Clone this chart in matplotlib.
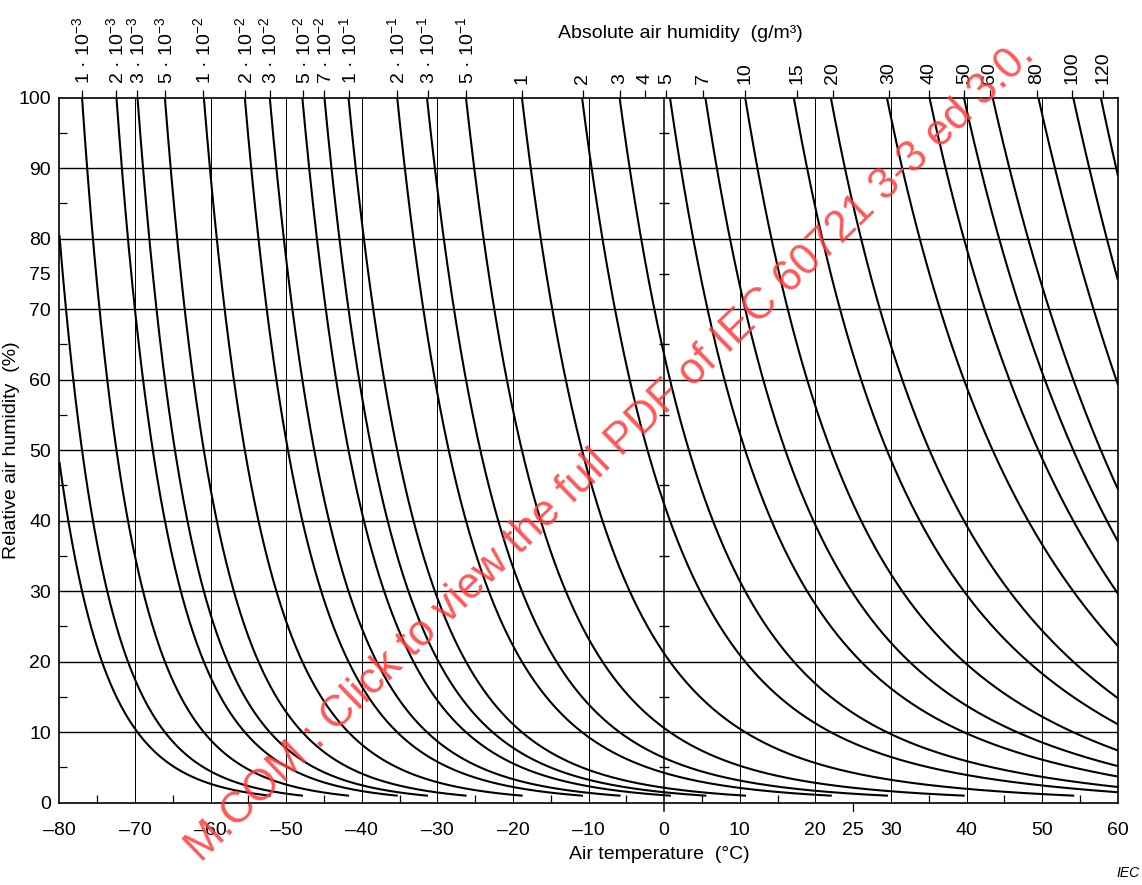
"""
Relative vs absolute air humidity chart (IEC 60721-3-3 style)
Curves of constant absolute humidity drawn over air temperature
"""
import numpy as np
import matplotlib.pyplot as plt

plt.rcParams['font.family'] = ['Liberation Sans', 'DejaVu Sans']
plt.rcParams['mathtext.fontset'] = 'custom'
plt.rcParams['mathtext.rm'] = 'Liberation Sans'
plt.rcParams['mathtext.it'] = 'Liberation Sans:italic'

# Saturation table: temperature (°C) where a curve hits 100 %
sat_temp = [-80.0, -77.0, -72.5, -69.7, -66.0, -61.0, -55.5, -52.2, -47.8, -45.0,
            -41.7, -35.3, -31.3, -26.2, -18.8, -10.8, -5.9, 0.3, 5.2, 10.7,
            17.6, 22.3, 29.7, 35.1, 39.7, 43.1, 49.3, 53.9, 58.1]
sat_density = [6.2e-4, 1e-3, 2e-3, 3e-3, 5e-3, 1e-2, 2e-2, 3e-2, 5e-2, 7e-2,
               0.1, 0.2, 0.3, 0.5, 1, 2, 3, 5, 7, 10,
               15, 20, 30, 40, 50, 60, 80, 100, 120]

# Absolute humidity curves drawn (g/m3)
curve_ah = [3e-4, 5e-4, 1e-3, 2e-3, 3e-3, 5e-3, 1e-2, 2e-2, 3e-2, 5e-2, 7e-2,
            0.1, 0.2, 0.3, 0.5, 1, 2, 3, 5, 7, 10, 15, 20, 30, 40, 50, 60,
            80, 100, 120]

# Top scale labels and their temperatures
top_labels = [r'1 · 10$^{-3}$', r'2 · 10$^{-3}$', r'3 · 10$^{-3}$', r'5 · 10$^{-3}$',
              r'1 · 10$^{-2}$', r'2 · 10$^{-2}$', r'3 · 10$^{-2}$', r'5 · 10$^{-2}$',
              r'7 · 10$^{-2}$', r'1 · 10$^{-1}$', r'2 · 10$^{-1}$', r'3 · 10$^{-1}$',
              r'5 · 10$^{-1}$', '1', '2', '3', '4', '5', '7', '10', '15', '20',
              '30', '40', '50', '60', '80', '100', '120']
top_label_temps = [-77.0, -72.5, -69.7, -66.0, -61.0, -55.5, -52.2, -47.8, -45.0,
                   -41.7, -35.3, -31.3, -26.2, -18.8, -10.8, -5.9, -2.5, 0.3, 5.2,
                   10.7, 17.6, 22.3, 29.7, 35.1, 39.7, 43.1, 49.3, 53.9, 58.1]

x_ticks = [-80, -70, -60, -50, -40, -30, -20, -10, 0, 10, 20, 25, 30, 40, 50, 60]
y_ticks = [0, 10, 20, 30, 40, 50, 60, 70, 75, 80, 90, 100]
zero_marks = [5, 15, 25, 35, 45, 55, 65, 75, 85, 95]

# smooth saturation curve through the read points
fit = np.polynomial.Polynomial.fit(sat_temp, np.log(sat_density), 5)
t_fine = np.linspace(-80, 60, 2000)
rho_sat = np.exp(fit(t_fine))

fig = plt.figure(figsize=(11.42, 8.85), dpi=100)
ax = fig.add_axes([0.0521, 0.0930, 0.9266, 0.7966])

# grid
for y in range(10, 100, 10):
    ax.axhline(y, color='black', lw=1.0, zorder=1)
for x in range(-70, 60, 10):
    if x != 0:
        ax.axvline(x, color='black', lw=0.7, zorder=1)
ax.plot([0, 0], [-1.2, 100], color='black', lw=1.1, clip_on=False, zorder=2)
ax.plot(np.zeros(len(zero_marks)), zero_marks, ls='none', marker='_',
        markersize=7, color='black', mew=1.0, zorder=2)
ax.plot([25, 25], [0, -1.2], color='black', lw=0.9, clip_on=False)

# humidity curves
for a in curve_ah:
    rh = 100 * a / rho_sat
    m = (rh <= 101) & (rh >= 1.0)
    ax.plot(t_fine[m], rh[m], color='black', lw=1.5, zorder=3)

ax.set_xlim(-80, 60)
ax.set_ylim(0, 100)
ax.set_xticks(x_ticks)
ax.set_xticklabels([str(v) if v >= 0 else '\u2013' + str(-v) for v in x_ticks])
ax.set_xticks(np.arange(-75, 60, 10), minor=True)
ax.set_yticks(y_ticks)
ax.set_yticks(np.arange(5, 100, 10), minor=True)
ax.tick_params(axis='x', which='major', length=0, pad=14, labelsize=14)
ax.tick_params(axis='y', which='major', length=0, pad=6, labelsize=14)
ax.tick_params(which='minor', direction='in', length=6, width=0.9)
for s in ax.spines.values():
    s.set_linewidth(1.2)

sec = ax.secondary_xaxis('top')
sec.set_xticks(top_label_temps)
sec.set_xticklabels(top_labels, rotation=90)
sec.tick_params(length=6, width=0.9, pad=4, labelsize=14)
sec.spines['top'].set_visible(False)

ax.set_ylabel('Relative air humidity  (%)', fontsize=14)
ax.yaxis.set_label_coords(-0.037, 0.5)
ax.set_xlabel('Air temperature  (°C)', fontsize=14)
ax.xaxis.set_label_coords(0.567, -0.062)
fig.text(0.5954, 0.9627, 'Absolute air humidity  (g/m³)', fontsize=14,
         ha='center', va='center')
fig.text(0.998, 0.006, 'IEC', fontsize=10, style='italic', ha='right', va='bottom')

# watermark of the source pdf
fig.text(0.535, 0.49, 'M.COM : Click to view the full PDF of IEC 60721 3-3 ed 3.0.',
         fontsize=31.5, color='#ff3b3b', alpha=0.85, rotation=44,
         rotation_mode='anchor', ha='center', va='center', zorder=10)

plt.savefig('out.png', dpi=100)
plt.close()
